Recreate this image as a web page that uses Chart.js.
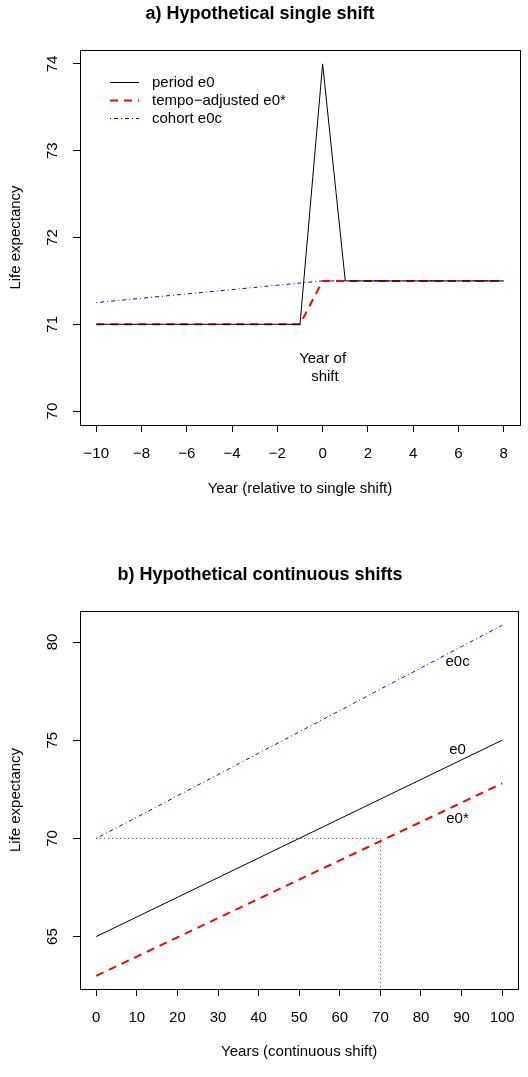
<!DOCTYPE html>
<html>
<head>
<meta charset="utf-8">
<script src="https://cdn.jsdelivr.net/npm/chart.js@4"></script>
<style>
  body { margin: 0; background: #fff; }
  canvas { display: block; }
</style>
</head>
<body>
<canvas id="chartA" width="528" height="540"></canvas>
<canvas id="chartB" width="528" height="537"></canvas>
<script>
// a) single shift
const yearsA = [-10, -9, -8, -7, -6, -5, -4, -3, -2, -1, 0, 1, 2, 3, 4, 5, 6, 7, 8];
const periodA = [71, 71, 71, 71, 71, 71, 71, 71, 71, 71, 74, 71.5, 71.5, 71.5, 71.5, 71.5, 71.5, 71.5, 71.5];
const tempoA = [71, 71, 71, 71, 71, 71, 71, 71, 71, 71, 71.5, 71.5, 71.5, 71.5, 71.5, 71.5, 71.5, 71.5, 71.5];
const cohortA = [71.25, 71.275, 71.3, 71.325, 71.35, 71.375, 71.4, 71.425, 71.45, 71.475, 71.5, 71.5, 71.5, 71.5, 71.5, 71.5, 71.5, 71.5, 71.5];
const xTicksA = [-10, -8, -6, -4, -2, 0, 2, 4, 6, 8];
const yTicksA = [70, 71, 72, 73, 74];
const legendA = ["period e0", "tempo\u2212adjusted e0*", "cohort e0c"];

// b) continuous shifts
const yearsB = [0, 10, 20, 30, 40, 50, 60, 70, 80, 90, 100];
const periodB = [65, 66, 67, 68, 69, 70, 71, 72, 73, 74, 75];
const tempoB = [63, 63.98, 64.96, 65.94, 66.92, 67.9, 68.88, 69.86, 70.84, 71.82, 72.8];
const cohortB = [70, 71.08, 72.17, 73.25, 74.34, 75.42, 76.51, 77.6, 78.68, 79.77, 80.85];
const guideX = [0, 70, 70];
const guideY = [70, 70, 62.33];
const xTicksB = [0, 10, 20, 30, 40, 50, 60, 70, 80, 90, 100];
const yTicksB = [65, 70, 75, 80];
const lineLabelsB = [["e0c", 89, 79], ["e0", 89, 74.5], ["e0*", 89, 71]];

const FONT = "'Liberation Sans', Arial, Helvetica, sans-serif";
const FS = 15;
Chart.defaults.font.family = FONT;
Chart.defaults.color = '#000';

const fmt = v => v < 0 ? '\u2212' + Math.abs(v) : String(v);
const pts = (xs, ys) => xs.map((x, i) => ({ x: x, y: ys[i] }));

const styles = {
  period: { borderColor: '#000', borderWidth: 1, borderDash: [] },
  tempo: { borderColor: '#ff0000', borderWidth: 2, borderDash: [8, 6] },
  cohort: { borderColor: '#0000ff', borderWidth: 1, borderDash: [1, 3, 4, 3] }
};

function ds(label, data, st) {
  return Object.assign({
    label: label,
    data: data,
    pointRadius: 0,
    tension: 0,
    fill: false
  }, st);
}

const boxPlugin = {
  id: 'box',
  afterDraw(chart) {
    const { ctx, chartArea: a } = chart;
    ctx.save();
    ctx.strokeStyle = '#000';
    ctx.lineWidth = 1;
    ctx.strokeRect(Math.round(a.left) + 0.5, Math.round(a.top) + 0.5,
      Math.round(a.right - a.left), Math.round(a.bottom - a.top));
    ctx.restore();
  }
};

function axes(xr, yr, xTicks, yTicks, xTitle, xHeight, xTitlePad) {
  return {
    x: {
      type: 'linear',
      min: xr[0], max: xr[1],
      afterBuildTicks: s => { s.ticks = xTicks.map(v => ({ value: v })); },
      afterFit: s => { s.height = xHeight; },
      ticks: { font: { size: FS }, padding: 13, maxRotation: 0, callback: v => fmt(v) },
      grid: { drawOnChartArea: false, drawTicks: true, tickLength: 7, color: '#000' },
      border: { display: true, color: '#000' },
      title: { display: true, text: xTitle, font: { size: FS }, padding: { top: 0, bottom: xTitlePad } }
    },
    y: {
      type: 'linear',
      min: yr[0], max: yr[1],
      afterBuildTicks: s => { s.ticks = yTicks.map(v => ({ value: v })); },
      afterFit: s => { s.width = 80; },
      ticks: { font: { size: FS }, padding: 12, minRotation: 90, maxRotation: 90, crossAlign: 'center', callback: v => fmt(v) },
      grid: { drawOnChartArea: false, drawTicks: true, tickLength: 7, color: '#000' },
      border: { display: true, color: '#000' },
      title: { display: true, text: 'Life expectancy', font: { size: FS }, padding: { top: 7, bottom: 0 } }
    }
  };
}

// chart a
const notesA = {
  id: 'notesA',
  afterDraw(chart) {
    const { ctx, scales: { x, y } } = chart;
    ctx.save();
    ctx.font = FS + 'px ' + FONT;
    ctx.fillStyle = '#000';
    ctx.textAlign = 'center';
    ctx.textBaseline = 'middle';
    ctx.fillText('Year of', x.getPixelForValue(0), y.getPixelForValue(70.6));
    ctx.fillText('shift', x.getPixelForValue(0.1), y.getPixelForValue(70.39));
    // legend
    const st = [styles.period, styles.tempo, styles.cohort];
    legendA.forEach((t, i) => {
      const yy = 82.5 + i * 18;
      ctx.beginPath();
      ctx.strokeStyle = st[i].borderColor;
      ctx.lineWidth = st[i].borderWidth;
      ctx.setLineDash(st[i].borderDash);
      ctx.moveTo(110, yy);
      ctx.lineTo(139, yy);
      ctx.stroke();
      ctx.setLineDash([]);
      ctx.textAlign = 'left';
      ctx.fillText(t, 152, yy);
    });
    ctx.restore();
  }
};

new Chart(document.getElementById('chartA').getContext('2d'), {
  type: 'line',
  data: {
    datasets: [
      ds('period e0', pts(yearsA, periodA), styles.period),
      ds('tempo-adjusted e0*', pts(yearsA, tempoA), styles.tempo),
      ds('cohort e0c', pts(yearsA, cohortA), styles.cohort)
    ]
  },
  options: {
    responsive: false,
    animation: false,
    devicePixelRatio: 1,
    layout: { padding: { left: 0, right: 8, top: 0, bottom: 0 } },
    scales: axes([-10.72, 8.72], [69.84, 74.16], xTicksA, yTicksA,
      'Year (relative to single shift)', 115, 42),
    plugins: {
      legend: { display: false },
      tooltip: { enabled: false },
      title: {
        display: true,
        text: 'a) Hypothetical single shift',
        font: { size: 18, weight: 'bold' },
        padding: { top: 3, bottom: 25.4 },
        align: 'center'
      }
    }
  },
  plugins: [boxPlugin, notesA]
});

// chart b
const notesB = {
  id: 'notesB',
  afterDraw(chart) {
    const { ctx, scales: { x, y } } = chart;
    ctx.save();
    ctx.font = FS + 'px ' + FONT;
    ctx.fillStyle = '#000';
    ctx.textAlign = 'center';
    ctx.textBaseline = 'middle';
    lineLabelsB.forEach(l => ctx.fillText(l[0], x.getPixelForValue(l[1]), y.getPixelForValue(l[2])));
    ctx.restore();
  }
};

new Chart(document.getElementById('chartB').getContext('2d'), {
  type: 'line',
  data: {
    datasets: [
      ds('guide', pts(guideX, guideY), { borderColor: '#333', borderWidth: 1, borderDash: [1, 3] }),
      ds('e0', pts(yearsB, periodB), styles.period),
      ds('e0*', pts(yearsB, tempoB), styles.tempo),
      ds('e0c', pts(yearsB, cohortB), styles.cohort)
    ]
  },
  options: {
    responsive: false,
    animation: false,
    devicePixelRatio: 1,
    layout: { padding: { left: 0, right: 8, top: 0, bottom: 0 } },
    scales: axes([-4, 104], [62.33, 81.58], xTicksB, yTicksB,
      'Years (continuous shift)', 88, 15.7),
    plugins: {
      legend: { display: false },
      tooltip: { enabled: false },
      title: {
        display: true,
        text: 'b) Hypothetical continuous shifts',
        font: { size: 18, weight: 'bold' },
        padding: { top: 24.7, bottom: 24.7 },
        align: 'center'
      }
    }
  },
  plugins: [boxPlugin, notesB]
});
</script>
</body>
</html>
